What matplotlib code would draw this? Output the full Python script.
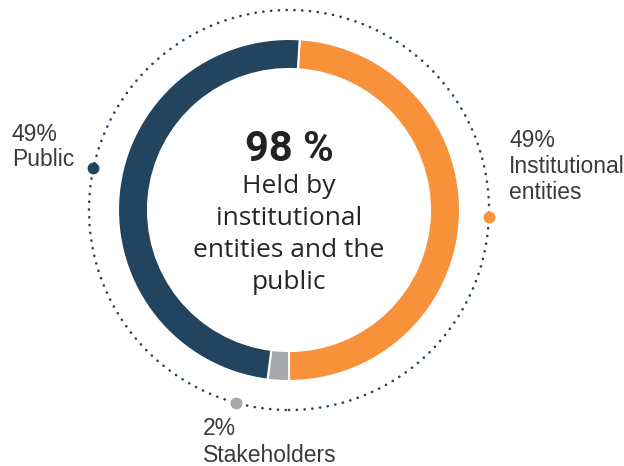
import matplotlib.pyplot as plt
import numpy as np
from matplotlib.patches import Circle

# participação acionária
categorias = ['Institutional\nentities', 'Stakeholders', 'Public']
percentuais = [49, 2, 49]
cores = ['#F7923A', '#A7A9AC', '#23445F']
total_destaque = 98
texto_central = ['Held by', 'institutional', 'entities and the', 'public']

W, H = 624, 466
cx, cy = 289, H - 210
raio = 171
largura_anel = 30
raio_pontos = 200
navy = '#23445F'
cinza_texto = '#3a3a3a'

fig = plt.figure(figsize=(W / 100, H / 100), dpi=100)
ax = fig.add_axes([0, 0, 1, 1])

# primeira fatia termina exatamente na parte de baixo do anel
inicio = percentuais[0] * 3.6 - 90
ax.pie(percentuais, colors=cores, startangle=inicio, counterclock=False,
       radius=raio, center=(cx, cy),
       wedgeprops=dict(width=largura_anel, edgecolor='white', linewidth=1.5))

# círculo pontilhado externo
ax.add_patch(Circle((cx, cy), raio_pontos, fill=False, edgecolor=navy,
                    linewidth=1.9, linestyle=(0, (0.05, 2.9)), capstyle='round'))

# marcadores sobre o círculo (ângulo em graus, anti-horário a partir do eixo x)
angulos = [-2, -105.3, 168]
for ang, cor in zip(angulos, cores):
    t = np.deg2rad(ang)
    ax.plot(cx + raio_pontos * np.cos(t), cy + raio_pontos * np.sin(t), 'o',
            color=cor, markersize=7.5, zorder=5)

# texto central
ax.text(cx, H - 161, f'{total_destaque} %', ha='center', va='baseline',
        fontsize=30, fontweight='bold', family='Roboto', color='#222222')
for i, linha in enumerate(texto_central):
    ax.text(cx, H - (193 + 32 * i), linha, ha='center', va='baseline',
            fontsize=19, family='Open Sans', color='#262626')

# rótulos externos
rotulos = [
    (509, [147, 173, 199], f'{percentuais[0]}%', categorias[0].split('\n')),
    (203, [435, 462], f'{percentuais[1]}%', [categorias[1]]),
    (12, [141, 166], f'{percentuais[2]}%', [categorias[2]]),
]
for x, bases, pct, nomes in rotulos:
    for base, txt in zip(bases, [pct] + nomes):
        ax.text(x, H - base, txt, ha='left', va='baseline', fontsize=16.5,
                family='Liberation Sans', color=cinza_texto)

ax.set_xlim(0, W)
ax.set_ylim(0, H)
ax.set_aspect('equal')
ax.set_axis_off()

fig.savefig('out.png', dpi=100, facecolor='white')
